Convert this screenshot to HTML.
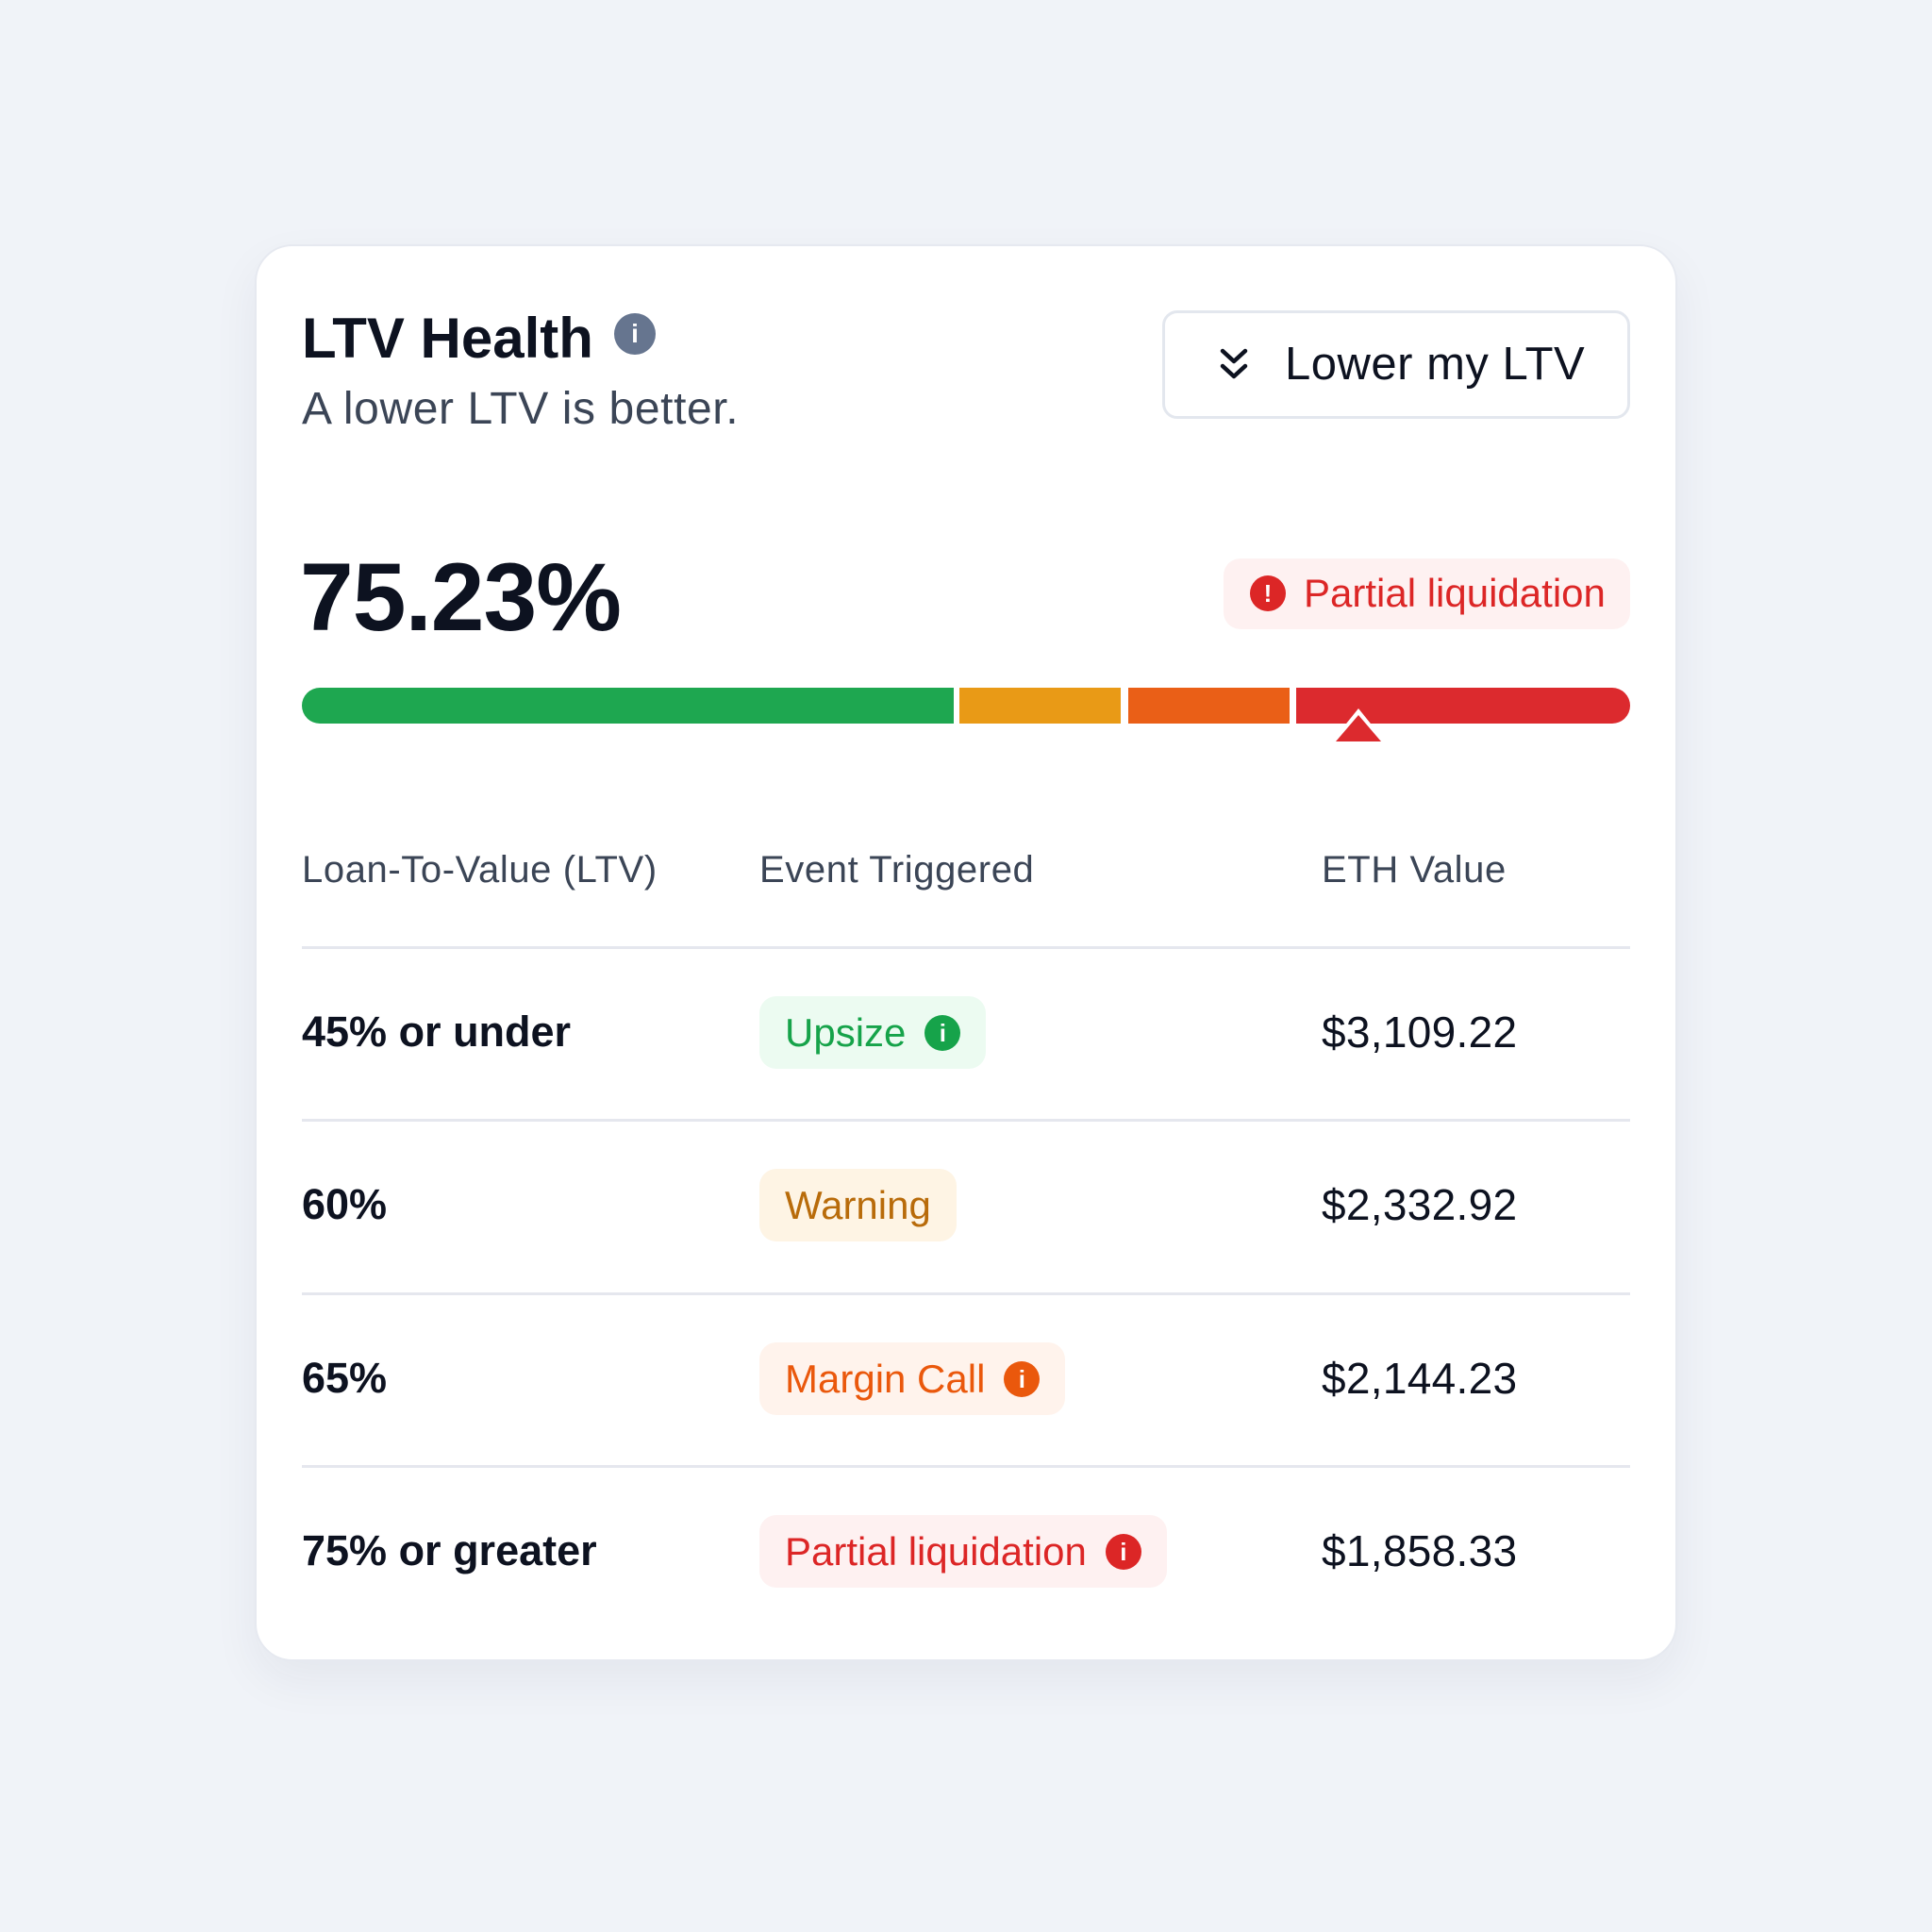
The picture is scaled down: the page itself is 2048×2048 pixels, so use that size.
<!DOCTYPE html>
<html><head><style>
*{margin:0;padding:0;box-sizing:border-box}
body{width:2048px;height:2048px;background:#f0f3f8;font-family:"Liberation Sans",sans-serif;position:relative;overflow:hidden}
.a{position:absolute;white-space:nowrap}
.card{position:absolute;left:270px;top:259px;width:1508px;height:1502px;background:#fff;border-radius:40px;border:2px solid #e6e9f0;box-shadow:0 20px 50px rgba(30,40,70,0.06)}
.seg{position:absolute;top:729px;height:38px}
.line{position:absolute;left:320px;width:1408px;height:3px;background:#e5e7ee}
.hdr{font-size:40px;color:#3b4556;top:900px;letter-spacing:0.6px}
.lbl{font-size:45px;font-weight:bold;color:#0d1220;left:320px}
.val{font-size:46px;color:#0d1220;left:1401px;letter-spacing:0.3px}
.pill{position:absolute;left:805px;height:77px;border-radius:18px;display:flex;align-items:center;padding:0 27px;font-size:42px}
.ic{display:inline-block;width:38px;height:38px;border-radius:50%;color:#fff;font-weight:bold;font-size:26px;text-align:center;line-height:38px;margin-left:20px}
</style></head><body>
<div class="card"></div>
<div class="a" style="left:320px;top:324px;font-size:60px;font-weight:bold;color:#0d1220">LTV Health</div>
<div class="a" style="left:651px;top:332px;width:44px;height:44px;border-radius:50%;background:#66758f;color:#fff;font-weight:bold;font-size:28px;text-align:center;line-height:44px">i</div>
<div class="a" style="left:320px;top:406px;font-size:48px;color:#3b4556;letter-spacing:0.6px">A lower LTV is better.</div>
<div class="a" style="left:1232px;top:329px;width:496px;height:115px;border:3px solid #e3e7ee;border-radius:16px;background:#fff"></div>
<svg class="a" style="left:1292px;top:368px" width="32" height="38" viewBox="0 0 32 38"><path d="M4 4 L16 15 L28 4 M4 20 L16 31 L28 20" fill="none" stroke="#0d1220" stroke-width="4.5" stroke-linecap="round" stroke-linejoin="round"/></svg>
<div class="a" style="left:1362px;top:358px;font-size:49px;color:#0d1220;letter-spacing:0.5px">Lower my LTV</div>
<div class="a" style="left:318px;top:575px;font-size:102px;font-weight:bold;color:#0d1220;letter-spacing:-1px">75.23%</div>
<div class="a" style="left:1297px;top:592px;width:431px;height:75px;border-radius:18px;background:#fef1f1"></div>
<div class="a" style="left:1325px;top:610px;width:38px;height:38px;border-radius:50%;background:#dc2626;color:#fff;font-weight:bold;font-size:26px;text-align:center;line-height:38px">!</div>
<div class="a" style="left:1382px;top:605px;font-size:42px;color:#dc2626">Partial liquidation</div>
<div class="seg" style="left:320px;width:691px;background:#1ea750;border-radius:19px 0 0 19px"></div>
<div class="seg" style="left:1017px;width:171px;background:#e99a16"></div>
<div class="seg" style="left:1196px;width:171px;background:#ea5f17"></div>
<div class="seg" style="left:1374px;width:354px;background:#dc2a2e;border-radius:0 19px 19px 0"></div>
<div class="a" style="left:1411px;top:751px;width:0;height:0;border-left:29px solid transparent;border-right:29px solid transparent;border-bottom:36px solid #fff"></div>
<div class="a" style="left:1416px;top:758px;width:0;height:0;border-left:24px solid transparent;border-right:24px solid transparent;border-bottom:28px solid #dc2a2e"></div>
<div class="a hdr" style="left:320px">Loan-To-Value (LTV)</div>
<div class="a hdr" style="left:805px">Event Triggered</div>
<div class="a hdr" style="left:1401px">ETH Value</div>
<div class="line" style="top:1003px"></div>
<div class="line" style="top:1186px"></div>
<div class="line" style="top:1370px"></div>
<div class="line" style="top:1553px"></div>
<div class="a lbl" style="top:1068px">45% or under</div>
<div class="a lbl" style="top:1251px">60%</div>
<div class="a lbl" style="top:1435px">65%</div>
<div class="a lbl" style="top:1618px">75% or greater</div>
<div class="pill" style="top:1056px;background:#ecfbf1;color:#16a34a">Upsize<span class="ic" style="background:#16a34a">i</span></div>
<div class="pill" style="top:1239px;background:#fef4e4;color:#b86b0a">Warning</div>
<div class="pill" style="top:1423px;background:#fff3ec;color:#ea580c">Margin Call<span class="ic" style="background:#ea580c">i</span></div>
<div class="pill" style="top:1606px;background:#fef1f1;color:#dc2626">Partial liquidation<span class="ic" style="background:#dc2626">i</span></div>
<div class="a val" style="top:1067px">$3,109.22</div>
<div class="a val" style="top:1250px">$2,332.92</div>
<div class="a val" style="top:1434px">$2,144.23</div>
<div class="a val" style="top:1617px">$1,858.33</div>
</body></html>
